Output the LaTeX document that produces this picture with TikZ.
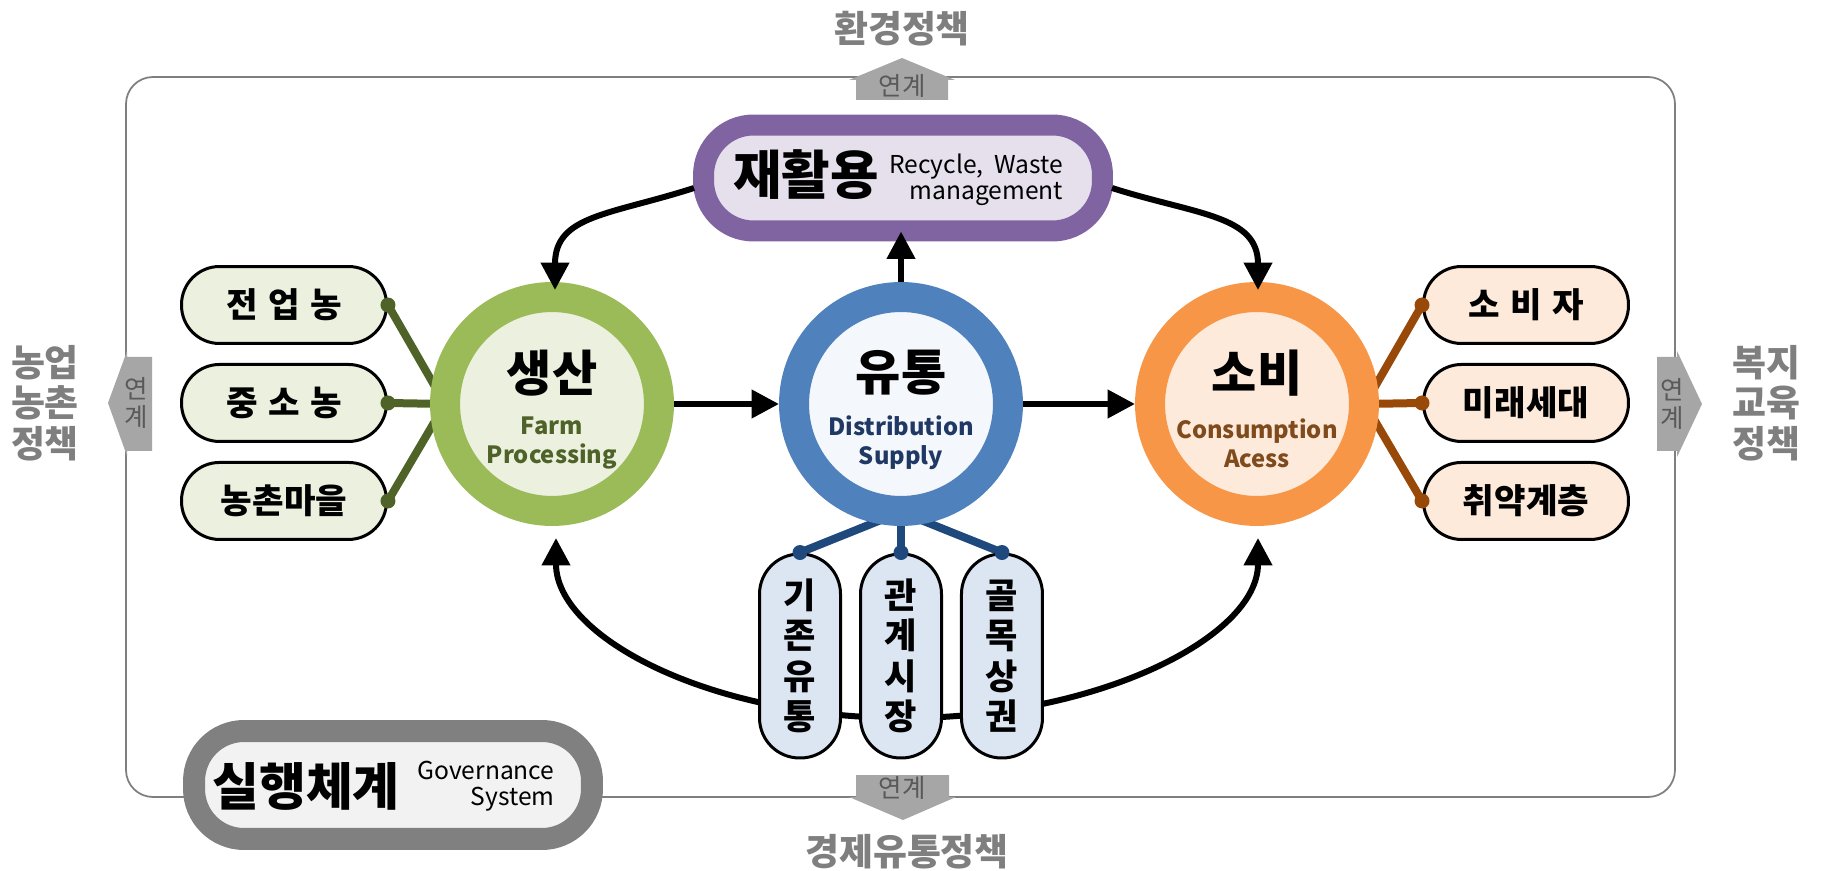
\documentclass[tikz,border=0pt]{standalone}
\usepackage{fontspec}
\setmainfont{Noto Sans CJK KR}
\usetikzlibrary{positioning, calc, arrows.meta, backgrounds}

\definecolor{prodgreen}{HTML}{9BBB59}
\definecolor{prodfill}{HTML}{EBF1DE}
\definecolor{proddark}{HTML}{4F6228}
\definecolor{distblue}{HTML}{4F81BD}
\definecolor{distfill}{HTML}{F4F7FC}
\definecolor{distdark}{HTML}{1F497D}
\definecolor{disttext}{HTML}{1F3864}
\definecolor{consorange}{HTML}{F79646}
\definecolor{consfill}{HTML}{FDEADA}
\definecolor{consdark}{HTML}{984807}
\definecolor{constext}{HTML}{7F4A1C}
\definecolor{recpurple}{HTML}{8064A2}
\definecolor{recfill}{HTML}{E5E0EC}
\definecolor{govgray}{HTML}{808080}
\definecolor{govfill}{HTML}{F2F2F2}
\definecolor{pillblue}{HTML}{DCE6F2}
\definecolor{linkgray}{HTML}{A6A6A6}
\definecolor{linktext}{HTML}{595959}
\definecolor{policygray}{HTML}{7F7F7F}

\tikzset{
	flow/.style={draw, line width=0.12cm, -{Triangle[length=0.55cm, width=0.55cm]}},
	every node/.style={inner sep=0pt}
}
\newcommand{\gap}{\hspace{0.3em}}

\begin{document}
\begin{tikzpicture}[x=0.02cm, y=-0.02cm,
	ring/.style={circle, minimum size=4.28cm, line width=0.6cm},
	bigko/.style={font=\fontsize{28}{30}\selectfont\bfseries},
	subtxt/.style={font=\fontsize{13.5}{16.5}\selectfont\bfseries, align=center},
	entxt/.style={font=\fontsize{14}{14.5}\selectfont, align=right},
	hpill/.style={draw, line width=0.06cm, rounded corners=0.76cm, minimum width=4.1cm, minimum height=1.54cm, font=\fontsize{19.5}{21}\selectfont\bfseries},
	vpill/.style={draw, line width=0.06cm, rounded corners=0.8cm, minimum width=1.62cm, minimum height=4.08cm, align=center, fill=pillblue, font=\fontsize{20}{23}\selectfont\bfseries},
	policy/.style={text=policygray, align=center, font=\fontsize{21}{23}\selectfont\bfseries},
	linktxt/.style={text=linktext, align=center, font=\fontsize{14.5}{16}\selectfont},
	hub/.style={line width=0.16cm},
	frame/.style={draw=policygray, line width=0.035cm, rounded corners=0.54cm}
]
	\useasboundingbox (0,0) rectangle (1823,871);

	% three stages
	\node[ring, draw=prodgreen, fill=prodfill] (prod) at (552,404) {};
	\node[ring, draw=distblue, fill=distfill] (dist) at (901,404) {};
	\node[ring, draw=consorange, fill=consfill] (cons) at (1257,404) {};
	\node[bigko] (prodKo) at (552,373) {생산};
	\node[bigko] (distKo) at (901,373) {유통};
	\node[bigko] (consKo) at (1257,373) {소비};
	\node[subtxt, text=proddark] (prodEn) at (552,443) {Farm\\Processing};
	\node[subtxt, text=disttext] (distEn) at (901,443) {Distribution\\Supply};
	\node[subtxt, text=constext] (consEn) at (1257,443) {Consumption\\Acess};

	% recycle and governance
	\node[draw=recpurple, fill=recfill, line width=0.42cm, rounded corners=1cm, minimum width=7.98cm, minimum height=2.12cm] (recycle) at (903,178) {};
	\node[bigko, font=\fontsize{30}{32}\selectfont\bfseries] (recKo) at (806,175) {재활용};
	\node[entxt] (recEn) at (976,180) {Recycle,~ Waste\\management};
	\node[draw=govgray, fill=govfill, line width=0.44cm, rounded corners=1cm, minimum width=7.96cm, minimum height=2.16cm] (gov) at (393,785) {};
	\node[bigko, font=\fontsize{29}{30}\selectfont\bfseries] (govKo) at (306,786) {실행체계};
	\node[entxt] (govEn) at (486,786) {Governance\\System};

	% actors
	\node[hpill, fill=prodfill] (farm1) at (284,305) {전\gap 업\gap 농};
	\node[hpill, fill=prodfill, below=0.36cm of farm1] (farm2) {중\gap 소\gap 농};
	\node[hpill, fill=prodfill, below=0.36cm of farm2] (farm3) {농촌마을};
	\node[hpill, fill=consfill] (user1) at (1526,305) {소\gap 비\gap 자};
	\node[hpill, fill=consfill, below=0.36cm of user1] (user2) {미래세대};
	\node[hpill, fill=consfill, below=0.36cm of user2] (user3) {취약계층};
	\node[vpill] (chan2) at (901,656) {관\\계\\시\\장};
	\node[vpill, left=0.34cm of chan2] (chan1) {기\\존\\유\\통};
	\node[vpill, right=0.34cm of chan2] (chan3) {골\\목\\상\\권};

	\begin{scope}[on background layer]
		\draw[frame] (126,77) rectangle (1675,797);
		\coordinate (farmHub) at (445,404);
		\coordinate (userHub) at (1365,404);
		\coordinate (chanHub) at (901,512);
		\foreach \nd in {farm1,farm2,farm3} \draw[hub, proddark] (\nd.east) -- (farmHub);
		\foreach \nd in {user1,user2,user3} \draw[hub, consdark] (\nd.west) -- (userHub);
		\foreach \nd in {chan1,chan2,chan3} \draw[hub, distdark] (\nd.north) -- (chanHub);
		\coordinate (bmid) at (904,718);
		\draw[flow] (bmid) .. controls (710,718) and (556,637) .. ($(prod.south)+(4,12)$);
		\draw[flow] (bmid) .. controls (1098,718) and (1258,637) .. ($(cons.south)+(1,12)$);
	\end{scope}

	\foreach \nd in {farm1,farm2,farm3} \fill[proddark] (\nd.east) circle (0.15cm);
	\foreach \nd in {user1,user2,user3} \fill[consdark] (\nd.west) circle (0.15cm);
	\foreach \nd in {chan1,chan2,chan3} \fill[distdark] (\nd.north) circle (0.15cm);

	% flows
	\draw[flow] (prod) -- (dist);
	\draw[flow] (dist) -- (cons);
	\draw[flow] (dist.north) -- ($(dist.north |- recycle.south)+(0,-10)$);
	\draw[flow] ($(recycle.west)+(1,10)$) .. controls (610,215) and (555,215) .. ($(prod.north)+(3,8)$);
	\draw[flow] ($(recycle.east)+(-1,10)$) .. controls (1197,215) and (1258,215) .. ($(cons.north)+(1,8)$);

	% links to other policies
	\fill[linkgray] (856,100) -- (856,80) -- (849,80) -- (902,58) -- (955,80) -- (948,80) -- (948,100) -- cycle;
	\node[linktxt] (envLink) at (902,86) {연계};
	\fill[linkgray] (856,775) -- (856,797) -- (849,797) -- (903,820) -- (956,797) -- (949,797) -- (949,775) -- cycle;
	\node[linktxt] (ecoLink) at (902,788) {연계};
	\fill[linkgray] (152,357) -- (127,357) -- (127,351) -- (108,403) -- (127,456) -- (127,451) -- (152,451) -- cycle;
	\node[linktxt] (farmLink) at (136,403) {연\\계};
	\fill[linkgray] (1657,357) -- (1677,357) -- (1677,351) -- (1702,404) -- (1677,457) -- (1677,451) -- (1657,451) -- cycle;
	\node[linktxt] (welfLink) at (1672,404) {연\\계};

	\node[policy] (envPolicy) at (902,29) {환경정책};
	\node[policy] (ecoPolicy) at (907,852) {경제유통정책};
	\node[policy] (farmPolicy) at (45,403) {농업\\농촌\\정책};
	\node[policy] (welfPolicy) at (1766,403) {복지\\교육\\정책};
\end{tikzpicture}
\end{document}
